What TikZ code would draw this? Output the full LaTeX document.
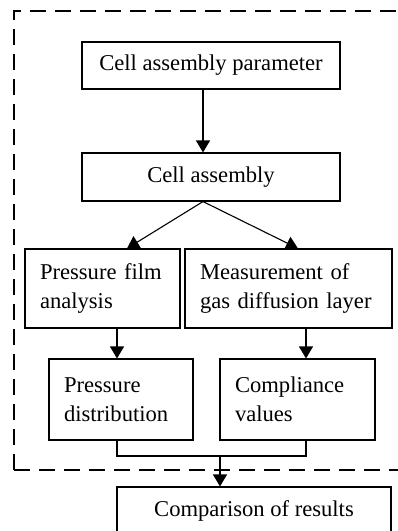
\documentclass[tikz,border=0pt]{standalone}
\usepackage{fontspec}
\setmainfont{Liberation Serif}
\usetikzlibrary{arrows.meta}

\begin{document}
\begin{tikzpicture}[x=1pt,y=-1pt,
 box/.style={draw, line width=1.1pt, inner sep=0pt, font=\fontsize{22.6}{29}\selectfont},
 lbox/.style={box, align=left, inner xsep=15pt, inner ysep=0pt},
 arr/.style={line width=1.1pt, -{Triangle[width=14pt,length=12pt]}}]
\clip (0,0) rectangle (398,531);
% dashed frame, runs off the right edge
\draw[line width=2pt, dash pattern=on 16pt off 9pt] (14,470) -- (14,11) -- (420,11);
\draw[line width=2pt, dash pattern=on 16pt off 9pt] (14,470) -- (420,470);
\node[box, minimum width=258pt, minimum height=47pt] (cap) at (211,65.5) {Cell assembly parameter};
\node[box, minimum width=258pt, minimum height=48pt] (ca) at (211,177) {Cell assembly};
\node[lbox, text width=125pt, minimum height=79pt] (pfa) at (102.5,288.5) {Pressure film\\analysis};
\node[lbox, text width=177pt, minimum height=79pt] (mgdl) at (288.5,288.5) {Measurement of\\gas diffusion layer};
\node[lbox, text width=114pt, minimum height=81pt] (pd) at (121,399.5) {Pressure\\distribution};
\node[lbox, text width=125pt, minimum height=81pt] (cv) at (297.5,399.5) {Compliance\\values};
\node[box, minimum width=274pt, minimum height=48pt] (cor) at (254,511) {Comparison of results};
\coordinate (join) at (220,456);
\draw[arr] ([xshift=-8pt]cap.south) -- ([xshift=-8pt]ca.north);
\draw[arr] ([xshift=-8pt]ca.south) -- ([xshift=24.5pt]pfa.north);
\draw[arr] ([xshift=-8pt]ca.south) -- ([xshift=9.5pt]mgdl.north);
\draw[arr] ([xshift=14.5pt]pfa.south) -- ([xshift=-4pt]pd.north);
\draw[arr] ([xshift=17.5pt]mgdl.south) -- ([xshift=8.5pt]cv.north);
\draw[line width=1.1pt] ([xshift=-4pt]pd.south) |- (join) -| ([xshift=8.5pt]cv.south);
\draw[arr] (join) -- (join |- cor.north);
\end{tikzpicture}
\end{document}
